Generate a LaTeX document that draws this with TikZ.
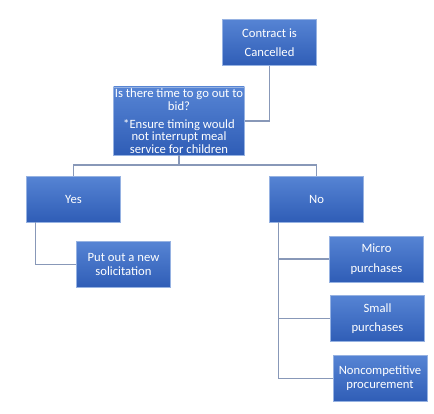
\documentclass[tikz,border=0pt]{standalone}
\usepackage{fontspec}
\setmainfont{Carlito}
\definecolor{boxtop}{RGB}{86,132,212}
\definecolor{boxbot}{RGB}{47,93,182}
\definecolor{boxrim}{RGB}{150,178,226}
\definecolor{linkgray}{RGB}{136,152,184}
\tikzset{
  box/.style={rectangle, top color=boxtop, bottom color=boxbot, draw=boxrim,
    line width=0.6pt, text=white, align=center, inner sep=1pt,
    font=\fontsize{9.5}{10.5}\selectfont},
  link/.style={draw=linkgray, line width=0.8pt}
}
\begin{document}
\begin{tikzpicture}[x=0.75pt, y=-0.75pt]
  \useasboundingbox (0,0) rectangle (434,413);
  % Boxes
  \node[box, minimum width=71pt, minimum height=35pt] (cancel) at (269.5,42.5)
    {Contract is\\[4pt]Cancelled};
  \node[box, minimum width=90pt, minimum height=51pt,
    font=\fontsize{9.5}{9.5}\selectfont] (bid) at (179,121)
    {Is there time to go out to\\bid?\\[4pt]*Ensure timing would\\not interrupt meal\\service for children};
  \node[box, minimum width=71pt, minimum height=34.5pt] (yes) at (73.5,199) {Yes};
  \node[box, minimum width=71pt, minimum height=34.5pt] (no) at (316.5,199) {No};
  \node[box, minimum width=71pt, minimum height=35pt] (put) at (123.5,264.5)
    {Put out a new\\solicitation};
  \node[box, minimum width=71pt, minimum height=34.5pt] (micro) at (376.5,259)
    {Micro\\[4pt]purchases};
  \node[box, minimum width=71pt, minimum height=35pt] (small) at (377.5,318.5)
    {Small\\[4pt]purchases};
  \node[box, minimum width=70.5pt, minimum height=35pt] (noncomp) at (380,378.5)
    {Noncompetitive\\procurement};
  % Connectors
  \coordinate (split) at (179,165);
  \draw[link] (cancel.south) |- (bid.east);
  \draw[link] (bid.south) -- (split) -| (yes.north);
  \draw[link] (split) -| (no.north);
  \draw[link] ([xshift=7.5pt]yes.south west) |- (put.west);
  \foreach \n in {micro,small,noncomp} {
    \draw[link] ([xshift=7.5pt]no.south west) |- (\n.west);
  }
\end{tikzpicture}
\end{document}
